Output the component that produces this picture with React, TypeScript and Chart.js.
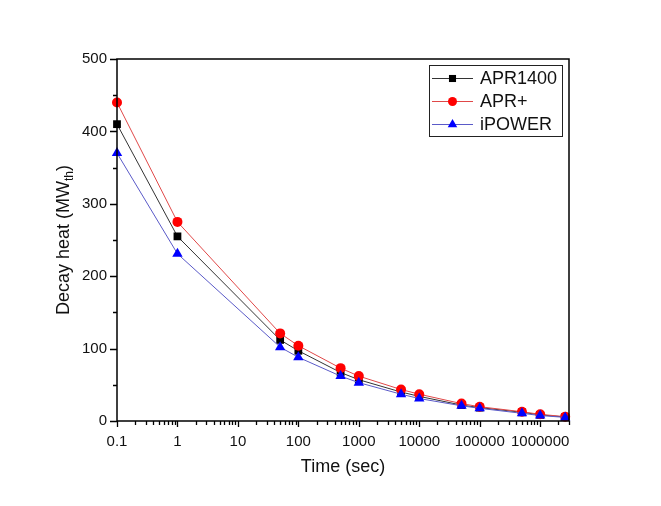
import React, { useEffect, useRef } from "react";
import { Chart, registerables } from "chart.js";

Chart.register(...registerables);

const timeSec = [0.1, 1, 50, 100, 500, 1000, 5000, 10000, 50000, 100000, 500000, 1000000, 2592000];
const apr1400 = [410, 255, 112, 97, 67, 57, 40, 34, 22, 18.5, 12, 8.5, 5.5];
const aprPlus = [440, 275, 121, 104, 73, 62, 43.5, 37, 24, 19.7, 12.8, 9.2, 6];
const ipower = [370, 231, 102, 88, 62, 53, 37, 31, 21, 17.5, 10.6, 7.5, 5];
const seriesLabels = ["APR1400", "APR+", "iPOWER"];
const xTitle = "Time (sec)";
const yTitleMain = "Decay heat (MW";
const yTitleSub = "th";
const yTitleEnd = ")";

const FONT = '"Liberation Sans", Arial, Helvetica, sans-serif';
const TEXT = "#111";

function drawMarker(ctx: CanvasRenderingContext2D, style: string, x: number, y: number, r: number, color: string) {
  ctx.save();
  ctx.fillStyle = color;
  ctx.beginPath();
  if (style === "rect") {
    const s = r * Math.SQRT1_2;
    ctx.rect(x - s, y - s, 2 * s, 2 * s);
  } else if (style === "circle") {
    ctx.arc(x, y, r, 0, Math.PI * 2);
  } else {
    const h = r;
    ctx.moveTo(x, y - h);
    ctx.lineTo(x + h * Math.sin((2 * Math.PI) / 3), y - h * Math.cos((2 * Math.PI) / 3));
    ctx.lineTo(x + h * Math.sin((4 * Math.PI) / 3), y - h * Math.cos((4 * Math.PI) / 3));
    ctx.closePath();
  }
  ctx.fill();
  ctx.restore();
}

const decorPlugin = {
  id: "decor",
  afterDraw(chart: any) {
    const ctx: CanvasRenderingContext2D = chart.ctx;
    const area = chart.chartArea;
    const xs = chart.scales.x;
    const ys = chart.scales.y;
    ctx.save();
    ctx.strokeStyle = "#000";
    ctx.lineWidth = 1.5;
    // frame
    ctx.beginPath();
    ctx.rect(area.left, area.top, area.right - area.left, area.bottom - area.top);
    ctx.stroke();
    // x ticks
    ctx.lineWidth = 1.3;
    ctx.beginPath();
    for (let e = -1; e <= 6; e++) {
      for (let k = 1; k <= 9; k++) {
        const v = k * Math.pow(10, e);
        if (v < xs.min * 0.9999 || v > xs.max * 1.0001) continue;
        const px = Math.round(xs.getPixelForValue(v)) + 0.5;
        const len = k === 1 ? 6 : 4;
        ctx.moveTo(px, area.bottom);
        ctx.lineTo(px, area.bottom + len);
      }
    }
    // y ticks
    for (let v = ys.min; v <= ys.max; v += 50) {
      const py = Math.round(ys.getPixelForValue(v)) + 0.5;
      const len = v % 100 === 0 ? 7 : 4;
      ctx.moveTo(area.left, py);
      ctx.lineTo(area.left - len, py);
    }
    ctx.stroke();

    // x title
    ctx.fillStyle = TEXT;
    ctx.font = `18px ${FONT}`;
    ctx.textAlign = "center";
    ctx.textBaseline = "middle";
    ctx.fillText(xTitle, (area.left + area.right) / 2, 467);

    // y title with subscript
    ctx.save();
    ctx.translate(63, (area.top + area.bottom) / 2);
    ctx.rotate(-Math.PI / 2);
    ctx.textAlign = "left";
    ctx.textBaseline = "alphabetic";
    const mainFont = `18px ${FONT}`;
    const subFont = `12px ${FONT}`;
    ctx.font = mainFont;
    const w1 = ctx.measureText(yTitleMain).width;
    const w3 = ctx.measureText(yTitleEnd).width;
    ctx.font = subFont;
    const w2 = ctx.measureText(yTitleSub).width;
    const total = w1 + w2 + w3;
    let cx = -total / 2;
    const base = 6;
    ctx.font = mainFont;
    ctx.fillText(yTitleMain, cx, base);
    cx += w1;
    ctx.font = subFont;
    ctx.fillText(yTitleSub, cx, base + 4);
    cx += w2;
    ctx.font = mainFont;
    ctx.fillText(yTitleEnd, cx, base);
    ctx.restore();

    // legend
    const lx = 429, ly = 65, lw = 133, lh = 71;
    ctx.lineWidth = 1;
    ctx.strokeStyle = "#222";
    ctx.strokeRect(lx + 0.5, ly + 0.5, lw, lh);
    const rowY = [78, 101, 124];
    chart.data.datasets.forEach((ds: any, i: number) => {
      const y = rowY[i];
      ctx.strokeStyle = ds.borderColor;
      ctx.lineWidth = 1;
      ctx.beginPath();
      ctx.moveTo(432, y + 0.5);
      ctx.lineTo(473, y + 0.5);
      ctx.stroke();
      drawMarker(ctx, ds.pointStyle, 452.5, y + 0.5, ds.legendRadius, ds.pointBackgroundColor);
      ctx.fillStyle = TEXT;
      ctx.font = `18px ${FONT}`;
      ctx.textAlign = "left";
      ctx.textBaseline = "middle";
      ctx.fillText(ds.label, 480, y + 1);
    });
    ctx.restore();
  },
};

export default function App() {
  const ref = useRef<HTMLCanvasElement>(null);
  useEffect(() => {
    if (!ref.current) return;
    const mk = (vals: number[]) => timeSec.map((x, i) => ({ x, y: vals[i] }));
    const chart = new Chart(ref.current, {
      type: "line",
      data: {
        datasets: [
          {
            label: seriesLabels[0],
            data: mk(apr1400),
            borderColor: "#333333",
            borderWidth: 1,
            pointStyle: "rect",
            pointRadius: 5.5,
            pointBackgroundColor: "#000000",
            pointBorderColor: "#000000",
            pointBorderWidth: 0,
            legendRadius: 5,
            order: 3,
            clip: false,
          } as any,
          {
            label: seriesLabels[1],
            data: mk(aprPlus),
            borderColor: "#e04848",
            borderWidth: 1,
            pointStyle: "circle",
            pointRadius: 5,
            pointBackgroundColor: "#ff0000",
            pointBorderColor: "#ff0000",
            pointBorderWidth: 0,
            legendRadius: 4.5,
            order: 2,
            clip: false,
          } as any,
          {
            label: seriesLabels[2],
            data: mk(ipower),
            borderColor: "#5a5ac8",
            borderWidth: 1,
            pointStyle: "triangle",
            pointRadius: 6,
            pointBackgroundColor: "#0000ff",
            pointBorderColor: "#0000ff",
            pointBorderWidth: 0,
            legendRadius: 5.5,
            order: 1,
            clip: false,
          } as any,
        ],
      },
      options: {
        responsive: false,
        animation: false,
        devicePixelRatio: 1,
        layout: { padding: { left: 0, top: 59, right: 92, bottom: 0 } },
        plugins: { legend: { display: false }, tooltip: { enabled: false } },
        elements: { line: { tension: 0 } },
        scales: {
          x: {
            type: "logarithmic",
            min: 0.1,
            max: 3000000,
            grid: { display: false, drawTicks: false },
            border: { display: false },
            ticks: {
              autoSkip: false,
              maxRotation: 0,
              padding: 12,
              color: TEXT,
              font: { family: FONT, size: 15 },
              callback: (value: any) => {
                const v = Number(value);
                const l = Math.log10(v);
                if (Math.abs(l - Math.round(l)) > 1e-9) return "";
                return v < 1 ? v.toFixed(1) : String(Math.round(v));
              },
            },
            afterFit: (s: any) => {
              s.height = 85;
            },
          },
          y: {
            type: "linear",
            min: 0,
            max: 500,
            grid: { display: false, drawTicks: false },
            border: { display: false },
            ticks: {
              stepSize: 100,
              padding: 10,
              color: TEXT,
              font: { family: FONT, size: 15 },
            },
            afterFit: (s: any) => {
              s.width = 117;
            },
          },
        },
      },
      plugins: [decorPlugin],
    });
    return () => chart.destroy();
  }, []);
  return (
    <div style={{ position: "absolute", left: 0, top: 0, width: 661, height: 506, background: "#fff" }}>
      <canvas ref={ref} width={661} height={506} style={{ width: 661, height: 506, display: "block" }} />
    </div>
  );
}
